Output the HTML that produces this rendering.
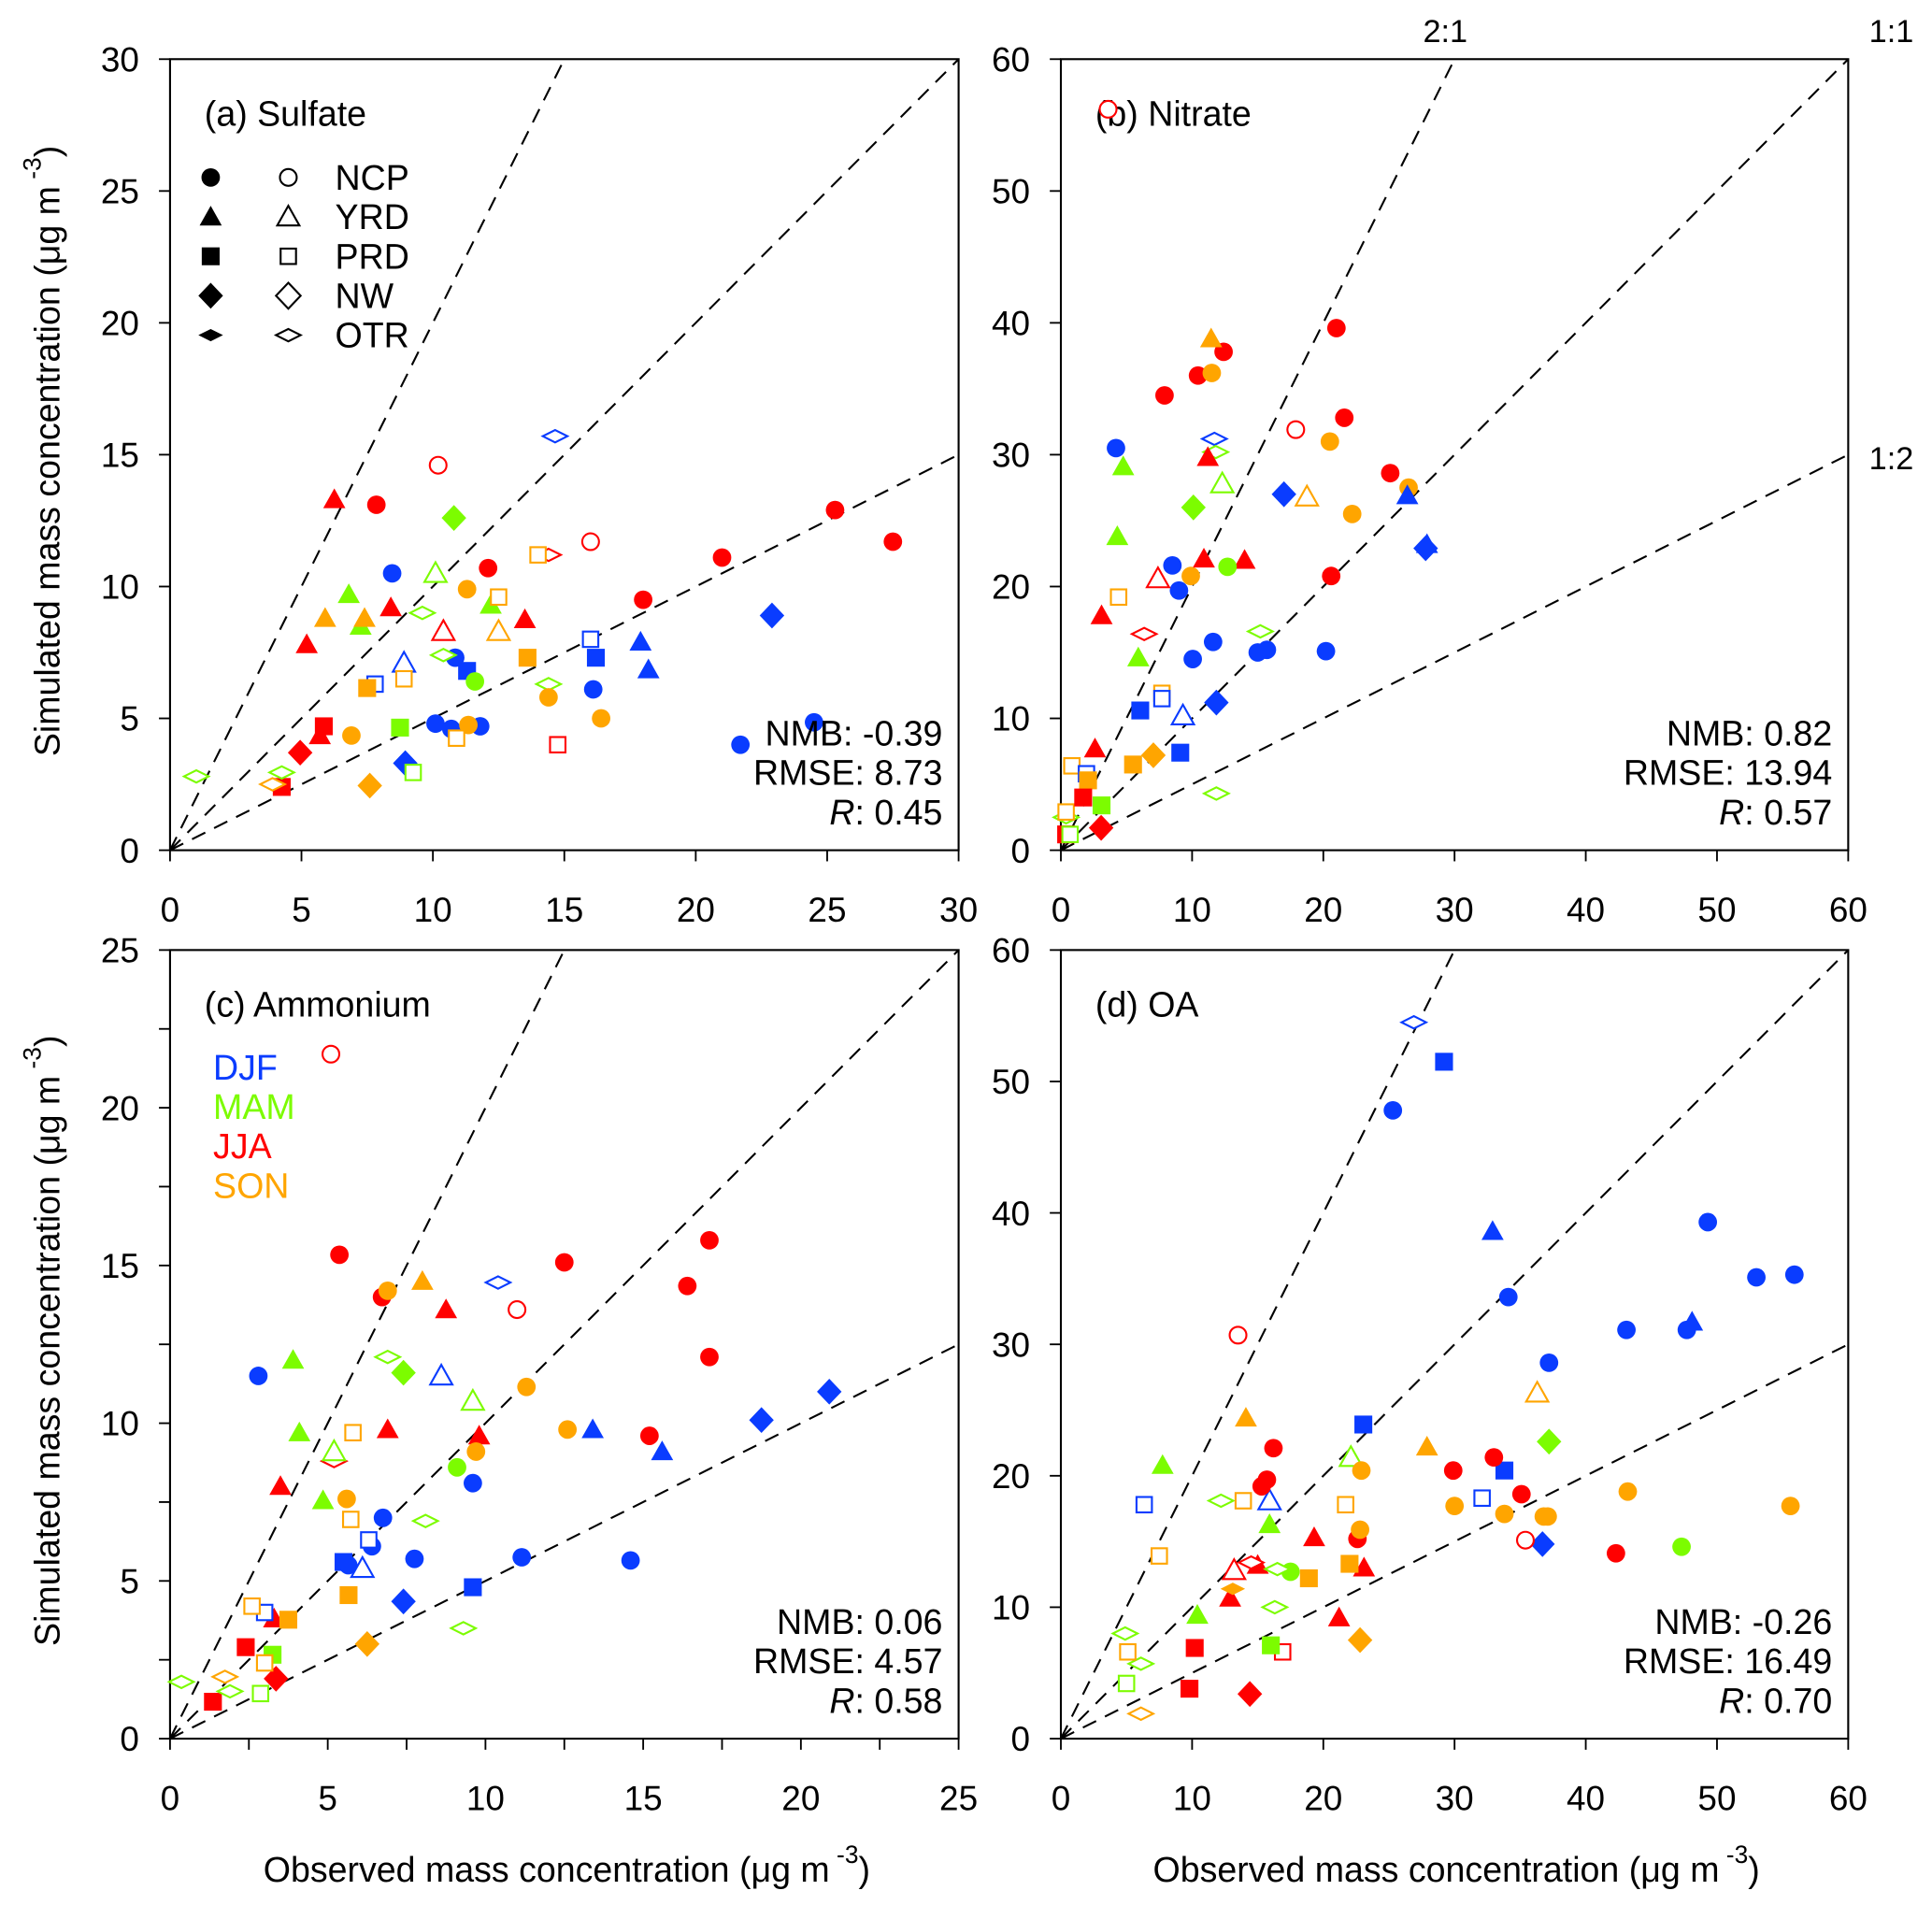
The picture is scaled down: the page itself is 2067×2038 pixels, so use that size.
<!DOCTYPE html>
<html><head><meta charset="utf-8"><style>
html,body{margin:0;padding:0;background:#fff}
svg{display:block}
text{font-family:"Liberation Sans",Arial,sans-serif;fill:#000}
</style></head><body>
<svg id="fig" xmlns="http://www.w3.org/2000/svg" width="2067" height="2038" viewBox="0 0 1568 1546" preserveAspectRatio="none">
<rect width="1568" height="1546" fill="#fff"/>
</svg>
<script>
const NS="http://www.w3.org/2000/svg";
const svg=document.getElementById('fig');
const COLORS={DJF:"#0a3cff",MAM:"#7cfc00",JJA:"#ff0000",SON:"#ffa500"};
const FS=28.5, TFS=28;
// [season, region, filled, observed, simulated]
const sulfatePts=[
["JJA","NCP",1,7.85,13.1],["JJA","NCP",1,12.1,10.7],["JJA","NCP",1,18.0,9.5],["JJA","NCP",1,21.0,11.1],["JJA","NCP",1,25.3,12.9],["JJA","NCP",1,27.5,11.7],
["JJA","NCP",0,10.2,14.6],["JJA","NCP",0,16.0,11.7],
["JJA","YRD",1,6.25,13.3],["JJA","YRD",1,5.2,7.8],["JJA","YRD",1,8.4,9.2],["JJA","YRD",1,13.5,8.75],["JJA","YRD",1,5.7,4.35],["JJA","YRD",0,10.4,8.3],
["JJA","PRD",1,5.85,4.7],["JJA","PRD",1,4.25,2.4],["JJA","PRD",0,14.75,4.0],["JJA","NW",1,4.95,3.7],["JJA","OTR",0,14.4,11.2],
["DJF","NCP",1,8.45,10.5],["DJF","NCP",1,10.85,7.3],["DJF","NCP",1,10.1,4.8],["DJF","NCP",1,10.7,4.6],["DJF","NCP",1,11.8,4.7],["DJF","NCP",1,16.1,6.1],["DJF","NCP",1,21.7,4.0],["DJF","NCP",1,24.5,4.85],
["DJF","YRD",1,17.9,7.9],["DJF","YRD",1,18.2,6.85],["DJF","YRD",0,8.9,7.1],["DJF","PRD",1,11.3,6.8],["DJF","PRD",1,16.2,7.3],["DJF","PRD",0,7.8,6.3],["DJF","PRD",0,16.0,8.0],
["DJF","NW",1,22.9,8.9],["DJF","NW",1,8.95,3.3],["DJF","OTR",0,14.65,15.7],
["MAM","NCP",1,11.6,6.4],["MAM","YRD",1,6.8,9.7],["MAM","YRD",1,7.25,8.5],["MAM","YRD",1,12.2,9.3],["MAM","YRD",0,10.1,10.5],["MAM","PRD",1,8.75,4.65],["MAM","PRD",0,9.25,2.95],["MAM","NW",1,10.8,12.6],
["MAM","OTR",0,9.6,9.0],["MAM","OTR",0,10.4,7.4],["MAM","OTR",0,14.4,6.3],["MAM","OTR",0,4.25,2.95],["MAM","OTR",0,1.0,2.8],
["SON","NCP",1,11.3,9.9],["SON","NCP",1,6.9,4.35],["SON","NCP",1,11.35,4.75],["SON","NCP",1,14.4,5.8],["SON","NCP",1,16.4,5.0],
["SON","YRD",1,5.9,8.8],["SON","YRD",1,7.4,8.8],["SON","YRD",0,12.5,8.3],["SON","PRD",1,7.5,6.15],["SON","PRD",1,13.6,7.3],
["SON","PRD",0,14.0,11.2],["SON","PRD",0,12.5,9.6],["SON","PRD",0,8.9,6.5],["SON","PRD",0,10.9,4.25],["SON","NW",1,7.6,2.45],["SON","OTR",0,3.9,2.5]
];
const nitratePts=[
["JJA","NCP",0,3.6,56.2],["JJA","NCP",0,17.9,31.9],
["JJA","NCP",1,7.9,34.5],["JJA","NCP",1,10.45,36.0],["JJA","NCP",1,12.4,37.8],["JJA","NCP",1,21.0,39.6],["JJA","NCP",1,21.6,32.8],["JJA","NCP",1,25.1,28.6],["JJA","NCP",1,20.6,20.8],
["SON","YRD",1,11.45,38.8],["SON","NCP",1,11.5,36.2],["SON","NCP",1,20.5,31.0],["SON","NCP",1,26.5,27.5],["SON","NCP",1,22.2,25.5],["SON","NCP",1,9.9,20.8],
["DJF","NCP",1,4.2,30.5],["DJF","NCP",1,8.5,21.6],["DJF","NCP",1,9.0,19.7],["DJF","NCP",1,11.6,15.8],["DJF","NCP",1,10.05,14.5],["DJF","NCP",1,15.0,15.0],["DJF","NCP",1,15.7,15.2],["DJF","NCP",1,20.2,15.1],
["DJF","OTR",0,11.7,31.2],["MAM","OTR",0,11.8,30.2],["MAM","OTR",0,15.2,16.6],["MAM","OTR",0,11.85,4.3],["MAM","OTR",0,0.4,2.5],
["JJA","YRD",1,11.2,29.8],["JJA","YRD",1,10.9,22.1],["JJA","YRD",1,14.0,22.0],["JJA","YRD",1,3.1,17.8],["JJA","YRD",1,2.6,7.7],
["MAM","YRD",1,4.75,29.1],["MAM","YRD",1,4.3,23.8],["MAM","YRD",1,5.9,14.6],["MAM","YRD",0,12.3,27.8],
["DJF","NW",1,17.0,27.0],["DJF","NW",1,27.8,22.9],["DJF","NW",1,11.85,11.2],["SON","YRD",0,18.75,26.8],
["DJF","YRD",1,26.4,26.9],["DJF","YRD",1,27.9,23.2],["MAM","NW",1,10.1,26.0],["MAM","NCP",1,12.7,21.5],["JJA","YRD",0,7.4,20.6],
["SON","PRD",0,4.4,19.2],["SON","PRD",0,7.7,11.9],["SON","PRD",0,0.84,6.4],["SON","PRD",0,0.4,2.9],["JJA","OTR",0,6.35,16.4],
["DJF","PRD",0,7.7,11.5],["DJF","PRD",0,1.95,5.8],["DJF","PRD",1,6.05,10.6],["DJF","PRD",1,9.1,7.4],["DJF","YRD",0,9.3,10.2],
["SON","PRD",1,5.5,6.5],["SON","PRD",1,2.07,5.3],["SON","NW",1,7.05,7.2],["JJA","PRD",1,1.7,4.0],["JJA","PRD",1,0.4,1.2],
["MAM","PRD",1,3.1,3.4],["JJA","NW",1,3.07,1.7],["MAM","PRD",0,0.7,1.2]
];
const ammoniumPts=[
["JJA","NCP",1,5.37,15.34],["JJA","NCP",1,6.72,14.0],["JJA","NCP",1,12.5,15.1],["JJA","NCP",1,17.1,15.8],["JJA","NCP",1,16.4,14.35],["JJA","NCP",1,17.1,12.1],["JJA","NCP",1,15.2,9.6],
["JJA","NCP",0,5.1,21.7],["JJA","NCP",0,11.0,13.6],
["JJA","YRD",1,8.75,13.6],["JJA","YRD",1,6.9,9.8],["JJA","YRD",1,9.8,9.6],["JJA","YRD",1,3.5,8.0],["JJA","YRD",1,3.3,3.8],
["JJA","PRD",1,2.4,2.9],["JJA","PRD",1,1.36,1.17],["JJA","NW",1,3.36,1.9],["JJA","OTR",0,5.2,8.8],
["DJF","NCP",1,2.8,11.5],["DJF","NCP",1,9.6,8.1],["DJF","NCP",1,6.75,7.0],["DJF","NCP",1,6.4,6.1],["DJF","NCP",1,5.65,5.5],["DJF","NCP",1,7.75,5.7],["DJF","NCP",1,11.15,5.75],["DJF","NCP",1,14.6,5.65],
["DJF","OTR",0,10.4,14.46],["DJF","YRD",0,8.6,11.5],["DJF","YRD",0,6.1,5.4],["DJF","YRD",1,13.4,9.8],["DJF","YRD",1,15.6,9.1],
["DJF","NW",1,20.9,11.0],["DJF","NW",1,18.75,10.1],["DJF","NW",1,7.4,4.35],["DJF","PRD",1,5.5,5.6],["DJF","PRD",1,9.6,4.8],["DJF","PRD",0,6.3,6.3],["DJF","PRD",0,3.0,4.0],
["MAM","YRD",1,3.9,12.0],["MAM","YRD",1,4.1,9.7],["MAM","YRD",1,4.85,7.55],["MAM","YRD",0,9.6,10.7],["MAM","YRD",0,5.2,9.1],["MAM","NW",1,7.4,11.6],
["MAM","OTR",0,6.9,12.1],["MAM","OTR",0,8.1,6.9],["MAM","OTR",0,9.3,3.5],["MAM","OTR",0,0.36,1.8],["MAM","OTR",0,1.9,1.5],
["MAM","NCP",1,9.1,8.6],["MAM","PRD",1,3.25,2.66],["MAM","PRD",0,2.87,1.43],
["SON","NCP",1,6.9,14.2],["SON","NCP",1,11.3,11.15],["SON","NCP",1,12.6,9.8],["SON","NCP",1,9.7,9.1],["SON","NCP",1,5.6,7.6],["SON","YRD",1,8.0,14.5],
["SON","PRD",0,5.8,9.7],["SON","PRD",0,5.73,6.95],["SON","PRD",0,2.6,4.2],["SON","PRD",0,3.0,2.4],["SON","PRD",1,5.66,4.55],["SON","PRD",1,3.75,3.77],
["SON","NW",1,6.25,3.0],["SON","OTR",0,1.74,1.96]
];
const oaPts=[
["DJF","OTR",0,26.9,54.5],["DJF","PRD",1,29.2,51.5],["DJF","PRD",1,23.05,23.9],["DJF","PRD",1,33.8,20.4],
["DJF","NCP",1,25.3,47.8],["DJF","NCP",1,34.1,33.6],["DJF","NCP",1,49.3,39.3],["DJF","NCP",1,53.0,35.1],["DJF","NCP",1,55.9,35.3],["DJF","NCP",1,43.1,31.1],["DJF","NCP",1,47.7,31.1],["DJF","NCP",1,37.2,28.6],
["DJF","YRD",1,32.9,38.6],["DJF","YRD",1,48.1,31.7],["DJF","YRD",0,15.9,18.1],["DJF","PRD",0,6.35,17.8],["DJF","PRD",0,32.1,18.3],["DJF","NW",1,36.7,14.8],
["JJA","NCP",0,13.5,30.7],["JJA","NCP",0,35.4,15.1],
["JJA","NCP",1,16.2,22.1],["JJA","NCP",1,15.7,19.7],["JJA","NCP",1,15.3,19.2],["JJA","NCP",1,29.9,20.4],["JJA","NCP",1,33.0,21.4],["JJA","NCP",1,35.1,18.6],["JJA","NCP",1,22.6,15.2],["JJA","NCP",1,42.3,14.1],
["JJA","YRD",1,19.3,15.3],["JJA","YRD",1,15.0,13.2],["JJA","YRD",1,12.9,10.7],["JJA","YRD",1,23.1,13.0],["JJA","YRD",1,21.2,9.2],["JJA","YRD",0,13.2,12.8],["JJA","OTR",0,14.5,13.4],
["JJA","PRD",1,10.2,6.9],["JJA","PRD",1,9.8,3.8],["JJA","PRD",0,16.9,6.6],["JJA","NW",1,14.4,3.4],
["MAM","YRD",1,7.75,20.8],["MAM","YRD",1,15.9,16.3],["MAM","YRD",1,10.4,9.4],["MAM","YRD",0,22.1,21.4],["MAM","NW",1,37.2,22.6],
["MAM","NCP",1,17.5,12.7],["MAM","NCP",1,47.3,14.6],
["MAM","OTR",0,12.2,18.1],["MAM","OTR",0,16.5,12.9],["MAM","OTR",0,16.3,10.0],["MAM","OTR",0,4.9,8.0],["MAM","OTR",0,6.1,5.7],
["MAM","PRD",1,16.0,7.1],["MAM","PRD",0,5.0,4.2],
["SON","YRD",1,14.1,24.4],["SON","YRD",1,27.9,22.2],["SON","YRD",0,36.3,26.3],
["SON","NCP",1,22.9,20.4],["SON","NCP",1,22.8,15.9],["SON","NCP",1,30.0,17.7],["SON","NCP",1,33.8,17.1],["SON","NCP",1,36.8,16.9],["SON","NCP",1,37.1,16.9],["SON","NCP",1,43.2,18.8],["SON","NCP",1,55.6,17.7],
["SON","PRD",0,13.9,18.1],["SON","PRD",0,21.7,17.8],["SON","PRD",0,7.5,13.9],["SON","PRD",0,5.1,6.6],
["SON","PRD",1,18.9,12.2],["SON","PRD",1,22.0,13.3],["SON","NW",1,22.8,7.5],["SON","OTR",1,13.1,11.4],["SON","OTR",0,6.1,1.9]
];
const sulfateTicks=[0,5,10,15,20,25,30];
const nitrateTicks=[0,10,20,30,40,50,60];
const ammoniumTicks=[0,5,10,15,20,25];
const oaTicks=[0,10,20,30,40,50,60];
const statsA=["NMB: -0.39","RMSE: 8.73","0.45"];
const statsB=["NMB: 0.82","RMSE: 13.94","0.57"];
const statsC=["NMB: 0.06","RMSE: 4.57","0.58"];
const statsD=["NMB: -0.26","RMSE: 16.49","0.70"];

function el(tag,attrs,parent){const e=document.createElementNS(NS,tag);for(const k in attrs)e.setAttribute(k,attrs[k]);(parent||svg).appendChild(e);return e;}
function shape(g,region,filled,color,cx,cy){
  const fill=filled?color:"#fff";const sw=filled?0:1.6;let e;
  if(region==="NCP"){e=el('circle',{cx:cx,cy:cy,r:filled?7.5:6.8,fill:fill,stroke:color,'stroke-width':sw},g);}
  else if(region==="YRD"){e=el('polygon',{points:`${cx},${cy-9} ${cx+9},${cy+7} ${cx-9},${cy+7}`,fill:fill,stroke:color,'stroke-width':sw},g);}
  else if(region==="PRD"){const s=filled?14.5:12.5;e=el('rect',{x:cx-s/2,y:cy-s/2,width:s,height:s,fill:fill,stroke:color,'stroke-width':sw},g);}
  else if(region==="NW"){e=el('polygon',{points:`${cx},${cy-10.5} ${cx+10},${cy} ${cx},${cy+10.5} ${cx-10},${cy}`,fill:fill,stroke:color,'stroke-width':sw},g);}
  else {e=el('polygon',{points:`${cx},${cy-5} ${cx+10},${cy} ${cx},${cy+5} ${cx-10},${cy}`,fill:fill,stroke:color,'stroke-width':sw},g);}
  return e;
}
function panel(cfg){
  const {x0,x1,y0,y1,max,ticks,minor,pts,title,stats,name}=cfg;
  const sx=v=>x0+(x1-x0)*v/max, sy=v=>y0-(y0-y1)*v/max;
  const g=el('g',{});
  
  
  const cid='clip-'+name;
  const cp=el('clipPath',{id:cid},g);el('rect',{x:x0,y:y1,width:x1-x0,height:y0-y1},cp);
  const lg=el('g',{'clip-path':`url(#${cid})`},g);
  [[2,'ratio-2-1-line'],[1,'ratio-1-1-line'],[0.5,'ratio-1-2-line']].forEach(([k,n])=>{
    const l=el('line',{x1:sx(0),y1:sy(0),x2:sx(max),y2:sy(max*k),stroke:'#000','stroke-width':1.6,'stroke-dasharray':'12,8'},lg);
    
    
  });
  const fr=el('rect',{x:x0,y:y1,width:x1-x0,height:y0-y1,fill:'none',stroke:'#000','stroke-width':1.6},g);
  
  
  ticks.forEach(t=>{
    el('line',{x1:sx(t),y1:y0,x2:sx(t),y2:y0+9,stroke:'#000','stroke-width':1.4},g);
    el('line',{x1:x0,y1:sy(t),x2:x0-9,y2:sy(t),stroke:'#000','stroke-width':1.4},g);
    const tx=el('text',{x:sx(t),y:y0+58,'text-anchor':'middle','font-size':TFS},g);tx.textContent=t;
    
    
    const ty=el('text',{x:x0-25,y:sy(t)+10,'text-anchor':'end','font-size':TFS},g);ty.textContent=t;
    
    
  });
  if(minor){for(let t=minor;t<max;t+=2*minor){
    el('line',{x1:sx(t),y1:y0,x2:sx(t),y2:y0+9,stroke:'#000','stroke-width':1.4},g);
    el('line',{x1:x0,y1:sy(t),x2:x0-9,y2:sy(t),stroke:'#000','stroke-width':1.4},g);
  }}
  const tt=el('text',{x:x0+28,y:y1+54,'font-size':FS},g);tt.textContent=title;
  
  
  const pg=el('g',{},g);
  pts.forEach(p=>{
    const m=shape(pg,p[1],p[2],COLORS[p[0]],sx(p[3]),sy(p[4]));
    
    
  });
  const ex=x1-13;
  const s1=el('text',{x:ex,y:y0-85,'text-anchor':'end','font-size':FS},g);s1.textContent=stats[0];
  
  
  const s2=el('text',{x:ex,y:y0-53,'text-anchor':'end','font-size':FS},g);s2.textContent=stats[1];
  
  
  const s3=el('text',{x:ex,y:y0-21,'text-anchor':'end','font-size':FS},g);
  
  
  const it=el('tspan',{'font-style':'italic'},s3);it.textContent='R';
  const rest=el('tspan',{},s3);rest.textContent=': '+stats[2];
}
panel({name:'sulfate',x0:138,x1:778,y0:690,y1:48,max:30,ticks:sulfateTicks,minor:0,pts:sulfatePts,title:'(a) Sulfate',stats:statsA});
panel({name:'nitrate',x0:861,x1:1500,y0:690,y1:48,max:60,ticks:nitrateTicks,minor:0,pts:nitratePts,title:'(b) Nitrate',stats:statsB});
panel({name:'ammonium',x0:138,x1:778,y0:1411,y1:771,max:25,ticks:ammoniumTicks,minor:2.5,pts:ammoniumPts,title:'(c) Ammonium',stats:statsC});
panel({name:'oa',x0:861,x1:1500,y0:1411,y1:771,max:60,ticks:oaTicks,minor:0,pts:oaPts,title:'(d) OA',stats:statsD});

const regions=["NCP","YRD","PRD","NW","OTR"];
regions.forEach((r,i)=>{
  const y=144+32*i;
  const a=shape(svg,r,1,'#000',171,y);
  
  
  const b=shape(svg,r,0,'#000',234,y);
  
  
  const t=el('text',{x:272,y:y+10,'font-size':FS});t.textContent=r;
  
  
});
["DJF","MAM","JJA","SON"].forEach((s,i)=>{
  const t=el('text',{x:173,y:876+32*i,'font-size':FS,style:'fill:'+COLORS[s]});t.textContent=s;
  
  
});
[["2:1",1173,34],["1:1",1535,34],["1:2",1535,381]].forEach(([s,x,y])=>{
  const t=el('text',{x:x,y:y,'font-size':26,'text-anchor':'middle'});t.textContent=s;
  
  
});
function ytitle(cy,name){
  const t=el('text',{x:0,y:0,'font-size':FS,'text-anchor':'middle',transform:`translate(48,${cy}) rotate(-90)`});
  
  
  const a=el('tspan',{},t);a.textContent='Simulated mass concentration (μg m';
  const b=el('tspan',{dy:-15,'font-size':20},t);b.textContent=' -3';
  const c=el('tspan',{dy:15},t);c.textContent=')';
}
ytitle(366,'y-axis-title-top');ytitle(1088,'y-axis-title-bottom');
function xtitle(cx,name){
  const t=el('text',{x:cx,y:1527,'font-size':FS,'text-anchor':'middle'});
  
  
  const a=el('tspan',{},t);a.textContent='Observed mass concentration (μg m';
  const b=el('tspan',{dy:-15,'font-size':20},t);b.textContent=' -3';
  const c=el('tspan',{dy:15},t);c.textContent=')';
}
xtitle(460,'x-axis-title-left');xtitle(1182,'x-axis-title-right');
</script>
</body></html>
